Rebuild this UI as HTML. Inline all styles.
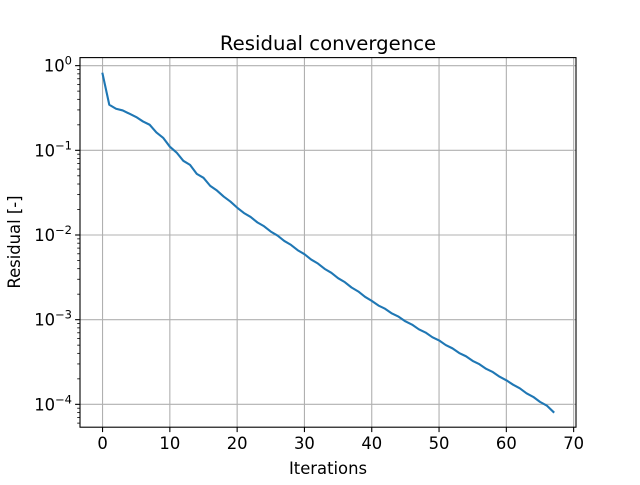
<!DOCTYPE html>
<html><head><meta charset="utf-8"><style>
body{margin:0;background:#fff}
svg text{font-family:"DejaVu Sans","Liberation Sans",sans-serif;fill:#000}
</style></head><body>
<svg id="chart" width="640" height="480" xmlns="http://www.w3.org/2000/svg">
<rect width="640" height="480" fill="#fff"/>
<g id="grid"></g><g id="series"></g><g id="ticks"></g>
<rect x="80" y="57.6" width="496" height="369.6" fill="none" stroke="#000" stroke-width="1.1"/>
<text x="328" y="50" font-size="19.7" text-anchor="middle">Residual convergence</text>
<text x="328" y="474" font-size="16.4" text-anchor="middle">Iterations</text>
<text transform="translate(20,242) rotate(-90)" font-size="16.4" text-anchor="middle">Residual [-]</text>
</svg>
<script>
const iterations=[0,1,2,3,4,5,6,7,8,9,10,11,12,13,14,15,16,17,18,19,20,21,22,23,24,25,26,27,28,29,30,31,32,33,34,35,36,37,38,39,40,41,42,43,44,45,46,47,48,49,50,51,52,53,54,55,56,57,58,59,60,61,62,63,64,65,66,67];
const residualLog10=[-0.095,-0.462,-0.509,-0.529,-0.568,-0.607,-0.659,-0.698,-0.789,-0.852,-0.957,-1.026,-1.124,-1.172,-1.278,-1.325,-1.420,-1.475,-1.546,-1.605,-1.677,-1.740,-1.787,-1.851,-1.897,-1.960,-2.007,-2.070,-2.117,-2.180,-2.227,-2.290,-2.337,-2.400,-2.447,-2.510,-2.557,-2.620,-2.667,-2.730,-2.778,-2.833,-2.872,-2.927,-2.965,-3.020,-3.059,-3.114,-3.152,-3.207,-3.245,-3.300,-3.339,-3.394,-3.432,-3.487,-3.526,-3.581,-3.619,-3.674,-3.716,-3.768,-3.811,-3.870,-3.912,-3.971,-4.014,-4.090];
const xTicks=[0,10,20,30,40,50,60,70];
const yTickExps=[0,-1,-2,-3,-4];
const NS="http://www.w3.org/2000/svg";
const L=80,R=576,T=57.6,B=427.2;
const xmin=-3.35,xmax=70.35;
const ymin=-4.27,ymax=0.095;
const xs=v=>L+(v-xmin)/(xmax-xmin)*(R-L);
const ys=lg=>B-(lg-ymin)/(ymax-ymin)*(B-T);
function mk(tag,attrs,parent){const e=document.createElementNS(NS,tag);for(const k in attrs)e.setAttribute(k,attrs[k]);document.getElementById(parent).appendChild(e);return e;}
xTicks.forEach(t=>{const x=xs(t);
 const g=mk('line',{x1:x,x2:x,y1:T,y2:B,stroke:'#b0b0b0','stroke-width':1.1},'grid');
 
 
 const tk=mk('line',{x1:x,x2:x,y1:B,y2:B+4.9,stroke:'#000','stroke-width':1.1},'ticks');
 
 
 const tx=mk('text',{x:x,y:449,'font-size':16.4,'text-anchor':'middle'},'ticks');tx.textContent=t;
 
 
});
yTickExps.forEach(e=>{const y=ys(e);
 const g=mk('line',{x1:L,x2:R,y1:y,y2:y,stroke:'#b0b0b0','stroke-width':1.1},'grid');
 
 
 const tk=mk('line',{x1:L-4.9,x2:L,y1:y,y2:y,stroke:'#000','stroke-width':1.1},'ticks');
 
 
 const tx=mk('text',{x:L-8,y:y+6,'font-size':16.4,'text-anchor':'end'},'ticks');
 
 
 const s=e<0?'\u2212'+(-e):''+e;
 tx.innerHTML='10<tspan dy="-7" font-size="11.5">'+s+'</tspan>';
});
for(let d=-5;d<=0;d++){for(let m=2;m<=9;m++){const lg=d+Math.log10(m);if(lg<ymin||lg>ymax)continue;const y=ys(lg);
 const mt=mk('line',{x1:L-2.8,x2:L,y1:y,y2:y,stroke:'#000','stroke-width':0.8},'ticks');
 
 
}}
const pts=iterations.map((it,i)=>xs(it).toFixed(2)+','+ys(residualLog10[i]).toFixed(2)).join(' ');
const line=mk('polyline',{points:pts,fill:'none',stroke:'#1f77b4','stroke-width':2.1,'stroke-linejoin':'round','stroke-linecap':'square'},'series');


</script>
</body></html>
